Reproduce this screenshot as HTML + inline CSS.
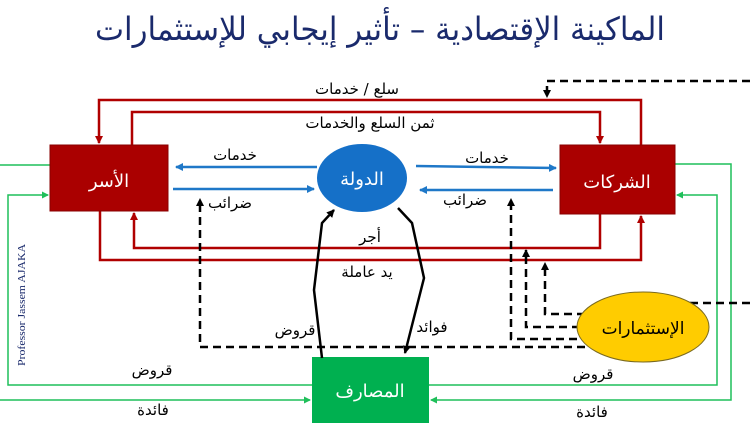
<!DOCTYPE html>
<html><head><meta charset="utf-8"><style>
html,body{margin:0;padding:0;background:#fff;}
svg{display:block;}
.a{font-family:"DejaVu Sans","Liberation Sans",sans-serif;}
</style></head><body>
<svg width="750" height="430" viewBox="0 0 750 430" xmlns="http://www.w3.org/2000/svg">
<defs>
<marker id="r" markerWidth="8" markerHeight="8" refX="7" refY="4" orient="auto" markerUnits="userSpaceOnUse"><path d="M0,0 L8,4 L0,8 z" fill="#b00000"/></marker>
<marker id="b" markerWidth="8" markerHeight="8" refX="7" refY="4" orient="auto" markerUnits="userSpaceOnUse"><path d="M0,0 L8,4 L0,8 z" fill="#1f78c8"/></marker>
<marker id="k" markerWidth="8" markerHeight="8" refX="7" refY="4" orient="auto" markerUnits="userSpaceOnUse"><path d="M0,0 L8,4 L0,8 z" fill="#000"/></marker>
<marker id="g" markerWidth="7" markerHeight="7" refX="6" refY="3.5" orient="auto" markerUnits="userSpaceOnUse"><path d="M0,0 L7,3.5 L0,7 z" fill="#1fbf5a"/></marker>
</defs>

<text class="a" x="380" y="40" text-anchor="middle" font-size="32" fill="#1a2a6c" textLength="570" lengthAdjust="spacingAndGlyphs" direction="rtl">الماكينة الإقتصادية – تأثير إيجابي للإستثمارات</text>

<g fill="none" stroke="#b00000" stroke-width="2.5">
<path d="M641,145 V100 H99 V143" marker-end="url(#r)"/>
<path d="M132,145 V112 H600 V143" marker-end="url(#r)"/>
<path d="M600,214 V248 H134 V213" marker-end="url(#r)"/>
<path d="M100,211 V260 H641 V216" marker-end="url(#r)"/>
</g>

<g fill="none" stroke="#1fbf5a" stroke-width="1.5">
<path d="M0,165 H50"/>
<path d="M312,385 H8 V195 H48" marker-end="url(#g)"/>
<path d="M0,400 H310" marker-end="url(#g)"/>
<path d="M675,164 H731 V400 H431" marker-end="url(#g)"/>
<path d="M429,385 H717 V195 H677" marker-end="url(#g)"/>
</g>

<g fill="none" stroke="#000" stroke-width="2.5" stroke-dasharray="8,5">
<path d="M598,347 H200 V199" marker-end="url(#k)"/>
<path d="M590,339 H511 V199" marker-end="url(#k)"/>
<path d="M580,327 H526 V250" marker-end="url(#k)"/>
<path d="M585,314 H545 V263" marker-end="url(#k)"/>
<path d="M750,81 H547 V97" marker-end="url(#k)"/>
<path d="M690,303 H750"/>
</g>

<rect x="50" y="145" width="118" height="66" fill="#aa0000" stroke="#8a0000"/>
<text class="a" x="109" y="187" text-anchor="middle" font-size="18" fill="#fff">الأسر</text>
<rect x="560" y="145" width="115" height="69" fill="#aa0000" stroke="#8a0000"/>
<text class="a" x="617" y="188" text-anchor="middle" font-size="18" fill="#fff">الشركات</text>
<ellipse cx="362" cy="178" rx="45" ry="34" fill="#1570c8"/>
<text class="a" x="362" y="185" text-anchor="middle" font-size="18" fill="#fff">الدولة</text>
<rect x="312" y="357" width="117" height="66" fill="#00b050"/>
<text class="a" x="370" y="397" text-anchor="middle" font-size="18" fill="#fff">المصارف</text>
<ellipse cx="643" cy="327" rx="66" ry="35" fill="#ffcc00" stroke="#7a6a20" stroke-width="1"/>
<text class="a" x="643" y="334" text-anchor="middle" font-size="17" fill="#000">الإستثمارات</text>

<g fill="none" stroke="#1f78c8" stroke-width="2.5">
<path d="M317,167 H176" marker-end="url(#b)"/>
<path d="M173,189 H314" marker-end="url(#b)"/>
<path d="M416,166 L556,168" marker-end="url(#b)"/>
<path d="M553,190 H420" marker-end="url(#b)"/>
</g>

<g fill="none" stroke="#000" stroke-width="2.5">
<path d="M322,358 L314,290 L322,223 L334,210" marker-end="url(#k)"/>
<path d="M398,208 L412,223 L424,278 L405,353" marker-end="url(#k)"/>
</g>

<g class="a" font-size="15" fill="#000" text-anchor="middle">
<text x="357" y="94">سلع / خدمات</text>
<text x="370" y="128">ثمن السلع والخدمات</text>
<text x="235" y="160">خدمات</text>
<text x="230" y="208">ضرائب</text>
<text x="487" y="163">خدمات</text>
<text x="465" y="205">ضرائب</text>
<text x="370" y="242">أجر</text>
<text x="367" y="277">يد عاملة</text>
<text x="295" y="335">قروض</text>
<text x="432" y="332">فوائد</text>
<text x="152" y="375">قروض</text>
<text x="153" y="415">فائدة</text>
<text x="593" y="379">قروض</text>
<text x="592" y="417">فائدة</text>
</g>
<text transform="translate(25,366) rotate(-90)" style="font-family:'Liberation Serif',serif" font-size="11" fill="#1a2a6c" textLength="122" lengthAdjust="spacingAndGlyphs">Professor Jassem AJAKA</text>
</svg>
</body></html>
